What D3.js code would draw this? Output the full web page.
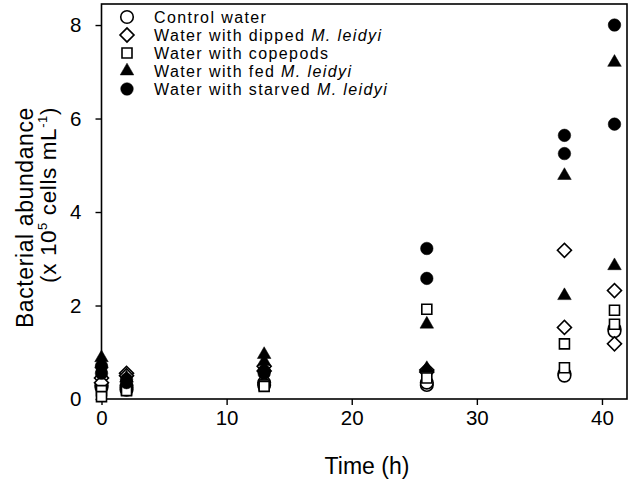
<!DOCTYPE html>
<html>
<head>
<meta charset="utf-8">
<script src="https://cdn.jsdelivr.net/npm/d3@7"></script>
<style>
  body { margin: 0; background: #fff; }
  svg text { font-family: "Liberation Sans", Arial, sans-serif; fill: #000; }
</style>
</head>
<body>
<div id="chart"></div>
<script>
// Sampling times (h)
const times = [0, 2, 13, 26, 37, 41]

// two replicates per time, x 10^5 cells mL-1
const controlRep1 = [0.30, 0.25, 0.35, 0.30, 0.54, 1.50]
const controlRep2 = [0.25, 0.20, 0.30, 0.35, 0.50, 1.45]
const dippedRep1 = [0.45, 0.55, 0.70, 0.62, 3.18, 2.32]
const dippedRep2 = [0.35, 0.50, 0.60, 0.58, 1.53, 1.18]
const copepodRep1 = [0.18, 0.20, 0.30, 1.92, 1.18, 1.90]
const copepodRep2 = [0.05, 0.18, 0.27, 0.45, 0.67, 1.60]
const fedRep1 = [0.88, 0.45, 0.95, 1.60, 4.78, 7.20]
const fedRep2 = [0.75, 0.38, 0.80, 0.65, 2.21, 2.85]
const starvedRep1 = [0.70, 0.42, 0.60, 3.22, 5.64, 8.00]
const starvedRep2 = [0.55, 0.35, 0.55, 2.58, 5.25, 5.88]

const xTicks = [0, 10, 20, 30, 40]
const yTicks = [0, 2, 4, 6, 8]

const series = [
  {name: "Control water", italic: "", shape: "circle", filled: false, reps: [controlRep1, controlRep2]},
  {name: "Water with dipped ", italic: "M. leidyi", shape: "diamond", filled: false, reps: [dippedRep1, dippedRep2]},
  {name: "Water with copepods", italic: "", shape: "square", filled: false, reps: [copepodRep1, copepodRep2]},
  {name: "Water with fed ", italic: "M. leidyi", shape: "triangle", filled: true, reps: [fedRep1, fedRep2]},
  {name: "Water with starved ", italic: "M. leidyi", shape: "circle", filled: true, reps: [starvedRep1, starvedRep2]}
]

const WIDTH = 630, HEIGHT = 482
const PLOT = {LEFT: 101.5, RIGHT: 627, TOP: 4, BOTTOM: 399}

const svg = d3.select("#chart").append("svg")
  .attr("width", WIDTH)
  .attr("height", HEIGHT)

const x = d3.scaleLinear().domain([0, 42]).range([PLOT.LEFT, PLOT.RIGHT])
const y = d3.scaleLinear().domain([0, 8.45]).range([PLOT.BOTTOM, PLOT.TOP])

// symbol generators
const symbolFor = {
  circle: d3.symbol(d3.symbolCircle, 124)(),
  square: d3.symbol(d3.symbolSquare, 100)(),
  diamond: d3.symbol(d3.symbolSquare, 98)(),
  triangle: d3.symbol(d3.symbolTriangle, 80)()
}

function drawSymbol(g, shape, filled, cx, cy) {
  g.append("path")
    .attr("d", symbolFor[shape])
    .attr("transform", "translate(" + cx + "," + cy + ")" + (shape === "diamond" ? " rotate(45)" : ""))
    .attr("fill", filled ? "#000" : "#fff")
    .attr("stroke", "#000")
    .attr("stroke-width", filled ? 0.5 : 1.6)
}

// frame
svg.append("rect")
  .attr("x", PLOT.LEFT).attr("y", PLOT.TOP)
  .attr("width", PLOT.RIGHT - PLOT.LEFT)
  .attr("height", PLOT.BOTTOM - PLOT.TOP)
  .attr("fill", "none")
  .attr("stroke", "#000")
  .attr("stroke-width", 1.6)

// axes
const xAxis = svg.append("g")
  .attr("transform", "translate(0," + PLOT.BOTTOM + ")")
  .call(d3.axisBottom(x).tickValues(xTicks).tickSize(6).tickPadding(5))
const yAxis = svg.append("g")
  .attr("transform", "translate(" + PLOT.LEFT + ",0)")
  .call(d3.axisLeft(y).tickValues(yTicks).tickSize(6).tickPadding(14))

for (const ax of [xAxis, yAxis]) {
  ax.select(".domain").remove()
  ax.selectAll("line").attr("stroke", "#000").attr("stroke-width", 1.4)
  ax.selectAll("text").attr("font-size", 20.5).attr("font-family", "Liberation Sans, Arial, sans-serif")
}

// axis titles
svg.append("text")
  .attr("x", 367).attr("y", 474)
  .attr("text-anchor", "middle")
  .attr("font-size", 23)
  .text("Time (h)")

// both title lines start at the same top point
const yTitle = svg.append("g").attr("transform", "translate(0,107) rotate(-90)")
yTitle.append("text")
  .attr("x", 0).attr("y", 33)
  .attr("text-anchor", "end")
  .attr("font-size", 23)
  .attr("letter-spacing", 0.6)
  .text("Bacterial abundance")
const yTitle2 = yTitle.append("text")
  .attr("x", 0).attr("y", 56)
  .attr("text-anchor", "end")
  .attr("font-size", 22.5)
  .attr("letter-spacing", 0.6)
yTitle2.append("tspan").text("(x 10")
yTitle2.append("tspan").attr("font-size", 13).attr("dy", -9).text("5")
yTitle2.append("tspan").attr("dy", 9).text(" cells mL")
yTitle2.append("tspan").attr("font-size", 13).attr("dy", -9).text("-1")
yTitle2.append("tspan").attr("dy", 9).text(")")

// points
const marks = svg.append("g")
series.forEach(s => {
  s.reps.forEach(rep => {
    rep.forEach((v, i) => drawSymbol(marks, s.shape, s.filled, x(times[i]), y(v)))
  })
})

// legend
const legend = svg.append("g")
series.forEach((s, i) => {
  const ly = 17 + i * 18
  drawSymbol(legend, s.shape, s.filled, 127, ly)
  const t = legend.append("text")
    .attr("x", 154).attr("y", ly + 6)
    .attr("font-size", 16)
    .attr("letter-spacing", 1.4)
  t.append("tspan").text(s.name)
  if (s.italic) t.append("tspan").attr("font-style", "italic").text(s.italic)
})
</script>
</body>
</html>
